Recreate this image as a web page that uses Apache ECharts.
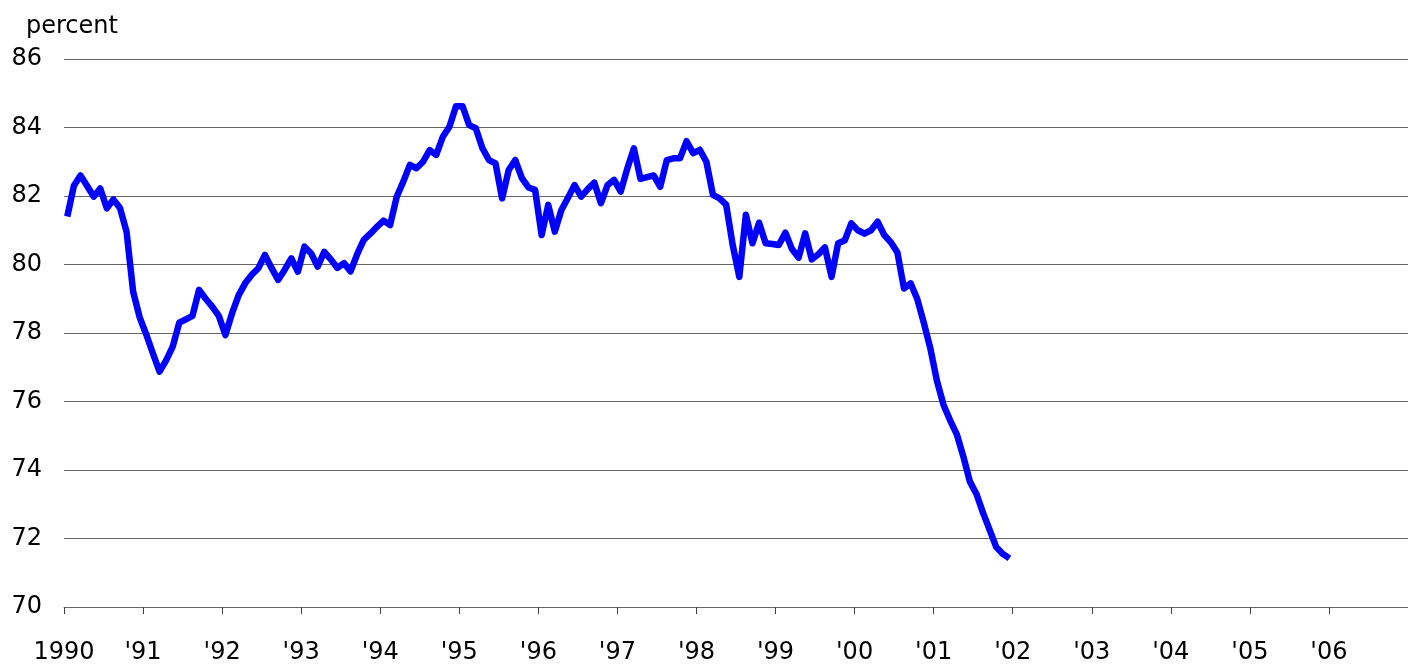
<!DOCTYPE html>
<html>
<head>
<meta charset="utf-8">
<title>percent, 1990-2001</title>
<script src="https://cdn.jsdelivr.net/npm/echarts@6/dist/echarts.min.js"></script>
<style>
  html, body { margin: 0; padding: 0; background: #fff; }
  #chart { width: 1408px; height: 665px; }
</style>
</head>
<body>
<div id="chart"></div>
<script>
// monthly values, Jan..Dec
const y1990 = [81.4, 82.3, 82.6, 82.3, 81.98, 82.22, 81.64, 81.9, 81.65, 80.95, 79.2, 78.45];
const y1991 = [77.95, 77.4, 76.87, 77.2, 77.6, 78.3, 78.4, 78.5, 79.26, 79.0, 78.77, 78.5];
const y1992 = [77.94, 78.57, 79.1, 79.45, 79.7, 79.89, 80.28, 79.9, 79.55, 79.85, 80.18, 79.79];
const y1993 = [80.52, 80.33, 79.94, 80.37, 80.15, 79.9, 80.04, 79.8, 80.3, 80.72, 80.9, 81.1];
const y1994 = [81.28, 81.15, 81.98, 82.42, 82.91, 82.81, 83.0, 83.34, 83.2, 83.73, 84.02, 84.62];
const y1995 = [84.62, 84.07, 83.98, 83.4, 83.05, 82.95, 81.93, 82.76, 83.05, 82.52, 82.25, 82.18];
const y1996 = [80.86, 81.74, 80.96, 81.59, 81.95, 82.32, 81.98, 82.2, 82.39, 81.79, 82.32, 82.47];
const y1997 = [82.13, 82.8, 83.39, 82.5, 82.55, 82.6, 82.27, 83.05, 83.1, 83.1, 83.6, 83.25];
const y1998 = [83.35, 83.0, 82.03, 81.93, 81.75, 80.57, 79.64, 81.45, 80.62, 81.22, 80.62, 80.6];
const y1999 = [80.57, 80.93, 80.45, 80.2, 80.91, 80.15, 80.3, 80.5, 79.64, 80.62, 80.7, 81.2];
const y2000 = [81.0, 80.9, 81.0, 81.25, 80.86, 80.65, 80.35, 79.3, 79.45, 79.0, 78.3, 77.55];
const y2001 = [76.6, 75.9, 75.45, 75.05, 74.4, 73.66, 73.3, 72.75, 72.25, 71.75, 71.55, 71.42];

const startYear = 1990;
const yearTicks = [1990, 1991, 1992, 1993, 1994, 1995, 1996, 1997, 1998, 1999, 2000, 2001, 2002, 2003, 2004, 2005, 2006];

const months = [].concat(y1990, y1991, y1992, y1993, y1994, y1995, y1996, y1997, y1998, y1999, y2000, y2001);
// each month sits in the middle of its slot
const lineData = months.map((v, i) => [startYear + (i + 0.5) / 12, v]);

const font = 'DejaVu Sans';
const chart = echarts.init(document.getElementById('chart'));

chart.setOption({
  animation: false,
  title: {
    text: 'percent',
    left: 21,
    top: 10,
    textStyle: { fontFamily: font, fontSize: 24, fontWeight: 'normal', color: '#000' }
  },
  grid: { left: 64, right: 0, top: 59, bottom: 58 },
  xAxis: {
    type: 'value',
    min: 1990,
    max: 2007,
    interval: 1,
    axisLine: { lineStyle: { color: '#666', width: 1 } },
    axisTick: { customValues: yearTicks, length: 7, lineStyle: { color: '#444' } },
    axisLabel: {
      customValues: yearTicks,
      formatter: v => (v === startYear ? String(v) : "'" + String(v).slice(2)),
      fontFamily: font,
      fontSize: 24,
      color: '#000',
      margin: 34
    },
    splitLine: { show: false }
  },
  yAxis: {
    type: 'value',
    min: 70,
    max: 86,
    interval: 2,
    axisLine: { show: false },
    axisTick: { show: false },
    axisLabel: { fontFamily: font, fontSize: 24, color: '#000', margin: 22 },
    splitLine: { lineStyle: { color: '#666', width: 1 } }
  },
  series: [
    {
      type: 'line',
      data: lineData,
      showSymbol: false,
      lineStyle: { color: '#0000ff', width: 6.5, join: 'round' }
    }
  ]
});
</script>
</body>
</html>
